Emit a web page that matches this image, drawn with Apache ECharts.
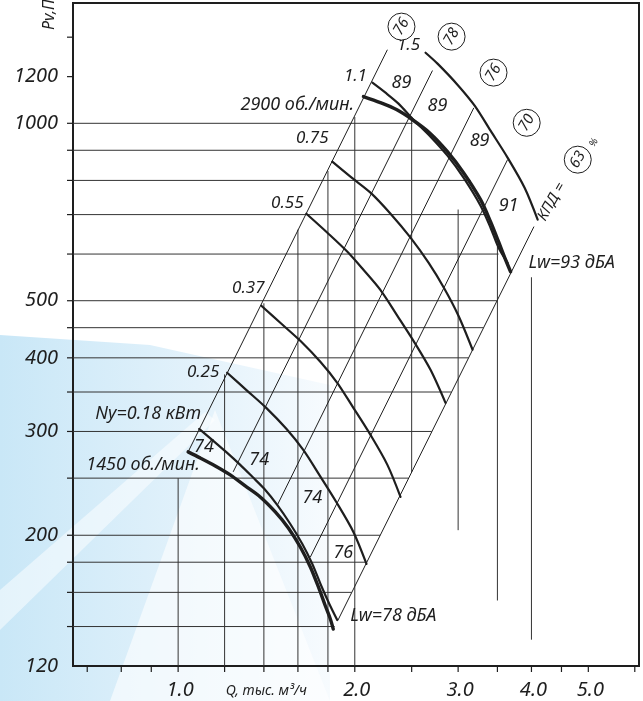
<!DOCTYPE html>
<html>
<head>
<meta charset="utf-8">
<script src="https://cdn.jsdelivr.net/npm/echarts@6/dist/echarts.min.js"></script>
<style>
html, body { margin: 0; padding: 0; background: #fff; }
#main { width: 643px; height: 701px; }
</style>
</head>
<body>
<div id="main"></div>
<script>
// Q, тыс. м3/ч  /  Pv, Па  (обе оси логарифмические)
var QMIN = 0.662, QMAX = 6.1, PMIN = 120, PMAX = 1600;

var xTickVals  = [0.7, 0.8, 0.9, 1.0, 1.2, 1.4, 1.6, 1.8, 2.0, 2.5, 3.0, 3.5, 4.0, 4.5, 5.0, 6.0];
var xLabelVals = [1.0, 2.0, 3.0, 4.0, 5.0];
var yTickVals  = [140, 160, 180, 200, 250, 300, 350, 400, 450, 500, 600, 700, 800, 900, 1000, 1200, 1400];
var yLabelVals = [120, 200, 300, 400, 500, 1000, 1200];

// сетка внутри рабочей зоны
var hGridP     = [140, 160, 180, 200, 250, 300, 350, 400, 450, 500, 600, 700, 800, 900, 1000];
var hGridRight = [1.848, 1.975, 2.095, 2.209, 2.469, 2.705, 2.922, 3.124, 3.313, 3.492, 3.516, 3.368, 3.150, 2.855, 2.508];
var vGridQ      = [1.0, 1.2, 1.4, 1.6, 1.8, 2.0, 2.5, 3.0, 3.5, 4.0];
var vGridBottom = [120, 120, 120, 120, 120, 120, 256, 204, 155, 133];
var vGridTop    = [250, 375, 495, 660, 830, 1025, 1014, 714, 617, 548];

// характеристики вентилятора
var curve2900 = [[2.069,1110],[2.211,1084],[2.355,1055],[2.508,1014],[2.692,960.4],[2.877,895.1],[3.064,824.5],[3.276,742.0],[3.407,680.9],[3.516,629.6],[3.614,586.8],[3.686,560.0]];
var curve1450 = [[1.040,277.0],[1.090,270.6],[1.157,262.2],[1.227,253.2],[1.301,242.5],[1.380,232.3],[1.464,219.1],[1.541,205.8],[1.615,191.0],[1.680,176.7],[1.734,163.4],[1.782,151.7],[1.817,144.2],[1.838,138.6]];

// мощность двигателя, кВт
var curveN15  = [[2.640,1317.6],[2.767,1262.6],[2.992,1163],[3.201,1071.4],[3.407,971.5],[3.642,874.6],[3.894,777.4],[4.099,686.3]];
var curveN11  = [[2.143,1172],[2.256,1127],[2.374,1080],[2.508,1018],[2.692,949.2],[2.877,881.2],[3.064,808.6],[3.276,724.7],[3.407,665.0],[3.516,615.0],[3.642,580.0]];
var curveN075 = [[1.831,860.8],[1.966,811.8],[2.127,762.7],[2.301,702.4],[2.489,639.6],[2.671,580.0],[2.843,523.9],[3.004,471.4],[3.175,412.8]];
var curveN055 = [[1.654,702.4],[1.796,652.2],[1.943,605.4],[2.069,564.3],[2.211,521.7],[2.364,471.4],[2.518,427.5],[2.692,381.7],[2.855,335.5]];
var curveN037 = [[1.386,490.2],[1.493,458.7],[1.615,427.5],[1.747,393.9],[1.867,362.8],[1.989,329.0],[2.127,296.0],[2.273,263.3],[2.393,232.3]];
var curveN025 = [[1.212,377.4],[1.306,353.0],[1.413,329.0],[1.529,303.1],[1.634,279.1],[1.740,253.2],[1.860,227.7],[1.989,202.6],[2.094,178.8]];
var curveN018 = [[1.086,303.1],[1.143,290.3],[1.207,277.0],[1.276,263.3],[1.338,251.3],[1.402,239.8],[1.475,225.2],[1.553,209.0],[1.628,193.3],[1.693,178.8],[1.754,164.0],[1.810,152.9],[1.867,143.6]];

// линии КПД (концы отрезков)
var effLine76a = [[1.040,277.0],[2.273,1333]];
var effLine78  = [[1.241,256.2],[2.713,1229]];
var effLine76b = [[1.476,225.0],[3.190,1062]];
var effLine70  = [[1.680,183.7],[3.642,867.6]];
var effLine63  = [[1.872,143.5],[4.040,668]];

var effText = ['76', '78', '76', '70', '63'];
var effQ    = [2.402, 2.924, 3.447, 3.926, 4.797];
var effP    = [1459, 1403, 1219, 1002, 867.6];

var labelText = ['1.5', '1.1', '2900 об./мин.', '0.75', '0.55', '0.37', '0.25', 'Ny=0.18 кВт', '1450 об./мин.',
                 '74', '74', '74', '76', '89', '89', '89', '91', 'Lw=93 дБА', 'Lw=78 дБА'];
var labelQ = [2.469, 2.005, 1.596, 1.693, 1.535, 1.317, 1.103, 0.889, 0.8715,
              1.107, 1.375, 1.693, 1.912, 2.402, 2.767, 3.264, 3.657, 4.684, 2.327];
var labelP = [1354.8, 1200, 1075.6, 945.3, 733.2, 526, 378.8, 321.4, 263.3,
              282.5, 268.5, 231.5, 186.6, 1172, 1071.4, 934.2, 724.7, 580, 145.9];

var INK = '#1e1e1e';
var FONT = '"Noto Sans", "DejaVu Sans", sans-serif';

var chart = echarts.init(document.getElementById('main'));

function curve(data, width) {
  return {
    type: 'line', data: data, showSymbol: false, smooth: 0.3, silent: true, z: 4,
    lineStyle: { color: INK, width: width, cap: 'round' }
  };
}
function straight(data) {
  return {
    type: 'line', data: data, showSymbol: false, silent: true, z: 3,
    lineStyle: { color: INK, width: 1 }
  };
}
function textEl(x, y, txt, size, rot) {
  return {
    type: 'text', x: x, y: y, rotation: rot || 0,
    style: {
      text: txt, fill: INK, font: 'italic ' + size + 'px ' + FONT,
      align: 'center', verticalAlign: 'middle', textAlign: 'center', textVerticalAlign: 'middle'
    }
  };
}

var option = {
  animation: false,
  grid: { left: 73, right: 4, top: 3, bottom: 35, show: true, borderColor: INK, borderWidth: 2, backgroundColor: 'transparent' },
  xAxis: {
    type: 'log', logBase: 10, min: QMIN, max: QMAX,
    axisLine: { show: true, onZero: false, lineStyle: { color: INK, width: 2 } },
    axisTick: { show: false }, axisLabel: { show: false }, splitLine: { show: false }
  },
  yAxis: {
    type: 'log', logBase: 10, min: PMIN, max: PMAX,
    axisLine: { show: true, onZero: false, lineStyle: { color: INK, width: 2 } },
    axisTick: { show: false }, axisLabel: { show: false }, splitLine: { show: false }
  },
  graphic: [
    // водяной знак
    {
      type: 'polygon', z: -10, silent: true,
      shape: { points: [[0, 335], [150, 345], [330, 385], [330, 701], [0, 701]] },
      style: { fill: new echarts.graphic.LinearGradient(0, 0, 1, 0, [
        { offset: 0, color: '#c9e7f7' }, { offset: 0.6, color: '#e3f2fb' }, { offset: 1, color: '#f7fbfe' }]) }
    },
    {
      type: 'polygon', z: -9, silent: true,
      shape: { points: [[215, 410], [330, 701], [110, 701]] },
      style: { fill: '#ffffff', opacity: 0.6 }
    },
    {
      type: 'polygon', z: -9, silent: true,
      shape: { points: [[0, 590], [205, 412], [215, 420], [0, 630]] },
      style: { fill: '#ffffff', opacity: 0.5 }
    },
    {
      type: 'text', x: 49, y: 30, rotation: Math.PI / 2, silent: true,
      style: { text: 'Pv,Па', fill: INK, font: 'italic 16px ' + FONT, align: 'left', verticalAlign: 'middle', textAlign: 'left', textVerticalAlign: 'middle' }
    }
  ],
  series: [
    // горизонтальные линии сетки
    {
      type: 'custom', silent: true, z: 1,
      data: hGridP.map(function (p, i) { return [QMIN, p, hGridRight[i]]; }),
      renderItem: function (params, api) {
        var a = api.coord([api.value(0), api.value(1)]);
        var b = api.coord([api.value(2), api.value(1)]);
        return { type: 'line', shape: { x1: a[0], y1: a[1], x2: b[0], y2: b[1] }, style: { stroke: '#333', lineWidth: 1 } };
      }
    },
    // вертикальные линии сетки
    {
      type: 'custom', silent: true, z: 1,
      data: vGridQ.map(function (q, i) { return [q, vGridBottom[i], vGridTop[i]]; }),
      renderItem: function (params, api) {
        var a = api.coord([api.value(0), api.value(1)]);
        var b = api.coord([api.value(0), api.value(2)]);
        return { type: 'line', shape: { x1: a[0], y1: a[1], x2: b[0], y2: b[1] }, style: { stroke: '#333', lineWidth: 1 } };
      }
    },
    // деления и подписи оси Q
    {
      type: 'custom', silent: true, z: 5,
      data: xTickVals.map(function (q) { return [q, PMIN]; }),
      renderItem: function (params, api) {
        var c = api.coord([api.value(0), api.value(1)]);
        return { type: 'line', shape: { x1: c[0], y1: c[1], x2: c[0], y2: c[1] + 6 }, style: { stroke: INK, lineWidth: 1.2 } };
      }
    },
    {
      type: 'custom', silent: true, z: 5,
      data: xLabelVals.map(function (q) { return [q, PMIN]; }),
      renderItem: function (params, api) {
        var c = api.coord([api.value(0), api.value(1)]);
        return textEl(c[0] + 2, c[1] + 24, api.value(0).toFixed(1), 20);
      }
    },
    // деления и подписи оси Pv
    {
      type: 'custom', silent: true, z: 5,
      data: yTickVals.map(function (p) { return [QMIN, p]; }),
      renderItem: function (params, api) {
        var c = api.coord([api.value(0), api.value(1)]);
        return { type: 'line', shape: { x1: c[0] - 6, y1: c[1], x2: c[0], y2: c[1] }, style: { stroke: INK, lineWidth: 1.2 } };
      }
    },
    {
      type: 'custom', silent: true, z: 5,
      data: yLabelVals.map(function (p) { return [QMIN, p]; }),
      renderItem: function (params, api) {
        var c = api.coord([api.value(0), api.value(1)]);
        var el = textEl(c[0] - 15, c[1], String(api.value(1)), 20);
        el.style.align = el.style.textAlign = 'right';
        return el;
      }
    },
    {
      type: 'custom', silent: true, z: 5,
      data: [[1.413, PMIN]],
      renderItem: function (params, api) {
        var c = api.coord([api.value(0), api.value(1)]);
        return textEl(c[0], c[1] + 25, 'Q, тыс. м³/ч', 14);
      }
    },
    // линии КПД
    straight(effLine76a), straight(effLine78), straight(effLine76b), straight(effLine70), straight(effLine63),
    // кривые
    curve(curveN15, 2.2), curve(curveN11, 2.2), curve(curveN075, 2.2), curve(curveN055, 2.2),
    curve(curveN037, 2.2), curve(curveN025, 2.2), curve(curveN018, 2.2),
    curve(curve2900, 3.4), curve(curve1450, 3.4),
    // подписи
    {
      type: 'custom', silent: true, z: 6,
      data: labelQ.map(function (q, i) { return [q, labelP[i]]; }),
      renderItem: function (params, api) {
        var c = api.coord([api.value(0), api.value(1)]);
        var t = labelText[params.dataIndex];
        var size = t.length > 4 ? 18 : (t.indexOf('.') >= 0 ? 17 : 18);
        return textEl(c[0], c[1], t, size);
      }
    },
    // значения КПД в кружках
    {
      type: 'custom', silent: true, z: 6,
      data: effQ.map(function (q, i) { return [q, effP[i]]; }),
      renderItem: function (params, api) {
        var c = api.coord([api.value(0), api.value(1)]);
        var rot = 60 * Math.PI / 180;
        var children = [
          { type: 'circle', shape: { cx: 0, cy: 0, r: 13.5 }, style: { fill: '#fff', stroke: INK, lineWidth: 1 } },
          textEl(0, 0, effText[params.dataIndex], 15, rot)
        ];
        if (params.dataIndex === effText.length - 1) {
          children.push(textEl(-26, 42, 'КПД =', 15, rot));
          children.push(textEl(16, -17, '%', 10, rot));
        }
        return { type: 'group', x: c[0], y: c[1], children: children };
      }
    }
  ]
};

chart.setOption(option);
</script>
</body>
</html>
